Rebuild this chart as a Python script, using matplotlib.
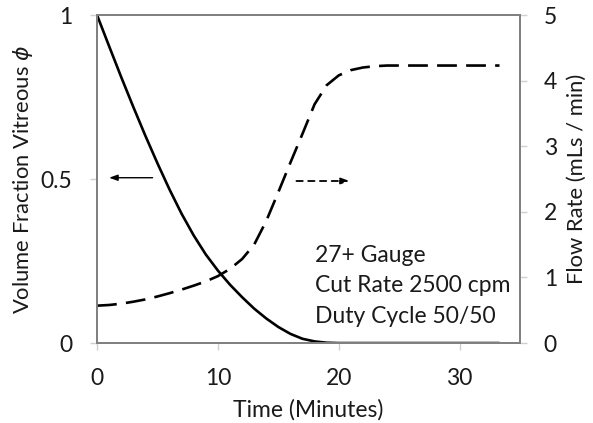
import matplotlib
matplotlib.use("Agg")
import matplotlib.pyplot as plt

plt.rcParams['font.family'] = ['Lato', 'DejaVu Sans']
plt.rcParams['mathtext.fontset'] = 'dejavusans'

# Volume fraction of vitreous (left axis)
t_phi = [0, 1, 2, 3, 4, 5, 6, 7, 8, 9, 10, 11, 12, 13, 14, 15, 16, 17, 18, 19, 20, 22, 25, 30, 33.3]
phi = [1.00, 0.905, 0.811, 0.72, 0.632, 0.548, 0.468, 0.394, 0.328, 0.27, 0.221, 0.178, 0.14, 0.105,
       0.075, 0.049, 0.028, 0.013, 0.005, 0.001, 0.0, 0.0, 0.0, 0.0, 0.0]

# Flow rate (right axis)
t_flow = [0, 1, 2, 3, 4, 5, 6, 7, 8, 9, 10, 11, 12, 13, 14, 15, 16, 17, 18, 19, 20, 21, 22, 23, 24,
          27, 30, 33.3]
flow = [0.57, 0.58, 0.60, 0.63, 0.665, 0.71, 0.76, 0.815, 0.875, 0.94, 1.02, 1.13, 1.28, 1.5, 1.86,
        2.3, 2.75, 3.19, 3.64, 3.93, 4.08, 4.16, 4.2, 4.22, 4.23, 4.23, 4.23, 4.23]

x_ticks = [0, 10, 20, 30]
left_ticks = [0, 0.5, 1]
left_labels = ['0', '0.5', '1']
right_ticks = [0, 1, 2, 3, 4, 5]

annotation = ["27+ Gauge", "Cut Rate 2500 cpm", "Duty Cycle 50/50"]

fig = plt.figure(figsize=(5.93, 4.23), dpi=100)
ax = fig.add_axes([0.1636, 0.189, 0.7134, 0.7755])
ax2 = ax.twinx()

ax.plot(t_phi, phi, color='black', lw=1.9, solid_capstyle='butt', solid_joinstyle='round')
ax2.plot(t_flow, flow, color='black', lw=1.9, dashes=(7.5, 3.5))

ax.set_xlim(0, 35)
ax.set_ylim(0, 1)
ax2.set_ylim(0, 5)

ax.set_xticks(x_ticks)
ax.set_yticks(left_ticks)
ax.set_yticklabels(left_labels)
ax2.set_yticks(right_ticks)

fs = 16.5
fs_y = 15.8
tick_col = '#d0d0d0'
for a in (ax, ax2):
    for s in a.spines.values():
        s.set_color('#808080')
        s.set_linewidth(1.3)
    a.tick_params(labelsize=fs, colors=tick_col, labelcolor='#1a1a1a', length=5, width=1)
ax.tick_params(axis='y', pad=13)
ax2.tick_params(axis='y', pad=12)
ax.tick_params(axis='x', pad=13)

ax.set_xlabel("Time (Minutes)", fontsize=fs, color='#1a1a1a', labelpad=7)
ax.set_ylabel(r"Volume Fraction Vitreous $\phi$", fontsize=fs_y, color='#1a1a1a')
ax.yaxis.set_label_coords(-0.147, 0.5)
ax2.set_ylabel("Flow Rate (mLs / min)", fontsize=fs_y, color='#1a1a1a', labelpad=7)

# Direction arrows pointing to each curve's axis
ax.annotate("", xy=(1.0, 0.504), xytext=(4.6, 0.504),
            arrowprops=dict(arrowstyle='-|>,head_length=0.5,head_width=0.18', color='black', lw=1.0,
                            mutation_scale=10, shrinkA=0, shrinkB=0))
ax.annotate("", xy=(20.9, 0.494), xytext=(16.5, 0.494),
            arrowprops=dict(arrowstyle='-|>,head_length=0.5,head_width=0.18', color='black', lw=1.3,
                            linestyle=(0, (3.5, 3)), mutation_scale=10, shrinkA=0, shrinkB=0))

for i, line in enumerate(annotation):
    ax.text(18.0, 0.268 - i * 0.093, line, fontsize=fs, color='#1a1a1a', va='center', ha='left')

fig.savefig("out.png", dpi=100)
